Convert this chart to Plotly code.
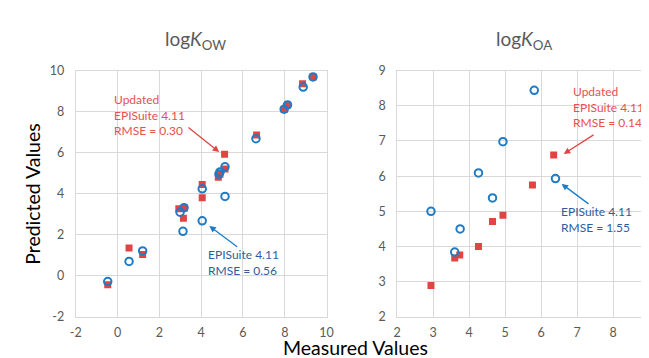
import plotly.graph_objects as go

# Left panel: logKow
kow_measured_upd = [-0.47, 0.55, 1.2, 2.93, 3.15, 3.2, 4.05, 4.05, 4.82, 4.9, 5.12, 5.14, 6.65, 7.97, 8.13, 8.85, 9.35]
kow_updated      = [-0.44, 1.35, 1.04, 3.27, 2.80, 3.30, 4.45, 3.80, 4.80, 4.95, 5.92, 5.20, 6.86, 8.10, 8.32, 9.36, 9.69]
kow_measured_epi = [-0.47, 0.55, 1.2, 2.99, 3.13, 3.18, 4.05, 4.05, 4.85, 4.9, 5.14, 5.14, 6.62, 7.97, 8.13, 8.88, 9.35]
kow_epi          = [-0.28, 0.70, 1.21, 3.10, 2.17, 3.32, 4.24, 2.68, 4.96, 5.06, 3.87, 5.31, 6.68, 8.12, 8.33, 9.20, 9.69]

# Right panel: logKoa
koa_measured_upd = [2.94, 3.60, 3.74, 4.26, 4.65, 4.94, 5.76, 6.35]
koa_updated      = [2.89, 3.67, 3.76, 4.00, 4.71, 4.89, 5.75, 6.60]
koa_measured_epi = [2.94, 3.60, 3.75, 4.26, 4.65, 4.94, 5.81, 6.40]
koa_epi          = [5.00, 3.84, 4.50, 6.09, 5.38, 6.98, 8.44, 5.93]

# Tick labels
kow_ticks = [-2, 0, 2, 4, 6, 8, 10]
kow_ticktext = ["-2", "0", "2", "4", "6", "8", "10"]
koa_ticks = [2, 3, 4, 5, 6, 7, 8, 9]
koa_ticktext = ["2", "3", "4", "5", "6", "7", "8", "9"]

RED = "#e04543"
BLUE = "#1f7cc4"
RED_TXT = "#e5514f"
BLUE_TXT = "#2c5e9e"
GRID = "#d9d9d9"
TICK = "#595959"
FONT = "Lato"

fig = go.Figure()

fig.add_trace(go.Scatter(x=kow_measured_upd, y=kow_updated, mode="markers",
                         marker=dict(symbol="square", size=7, color=RED),
                         xaxis="x", yaxis="y", showlegend=False))
fig.add_trace(go.Scatter(x=kow_measured_epi, y=kow_epi, mode="markers",
                         marker=dict(symbol="circle-open", size=7.5, color=BLUE, line=dict(width=2, color=BLUE)),
                         xaxis="x", yaxis="y", showlegend=False))
fig.add_trace(go.Scatter(x=koa_measured_upd, y=koa_updated, mode="markers",
                         marker=dict(symbol="square", size=7, color=RED),
                         xaxis="x2", yaxis="y2", showlegend=False))
fig.add_trace(go.Scatter(x=koa_measured_epi, y=koa_epi, mode="markers",
                         marker=dict(symbol="circle-open", size=7.5, color=BLUE, line=dict(width=2, color=BLUE)),
                         xaxis="x2", yaxis="y2", showlegend=False))

axcommon = dict(showgrid=True, gridcolor=GRID, gridwidth=1, zeroline=False,
                showline=True, linecolor=GRID, linewidth=1, mirror=True,
                ticks="", tickfont=dict(family=FONT, size=12.5, color=TICK))

ydom = [44 / 358, 301 / 358]
fig.update_layout(
    width=649, height=358,
    margin=dict(l=0, r=0, t=0, b=0),
    paper_bgcolor="white", plot_bgcolor="white",
    font=dict(family=FONT),
    xaxis=dict(domain=[63 / 649, 319 / 649], range=[-2, 10], tickmode="array", tickvals=kow_ticks,
               ticktext=kow_ticktext, anchor="y", ticklabelstandoff=4, **axcommon),
    yaxis=dict(domain=ydom, range=[-2, 10], tickmode="array", tickvals=kow_ticks,
               ticktext=kow_ticktext, anchor="x", ticklabelstandoff=8, **axcommon),
    xaxis2=dict(domain=[391 / 649, 648 / 649], range=[2, 9], tickmode="array", tickvals=koa_ticks,
                ticktext=koa_ticktext, anchor="y2", ticklabelstandoff=4, **axcommon),
    yaxis2=dict(domain=ydom, range=[2, 9], tickmode="array", tickvals=koa_ticks,
                ticktext=koa_ticktext, anchor="x2", ticklabelstandoff=8, **axcommon),
)

ann = []
# Titles
ann.append(dict(text="log<i>K</i><sub>OW</sub>", xref="paper", yref="paper", x=185 / 649, y=(358 - 25) / 358,
                showarrow=False, font=dict(size=19, color=TICK, family=FONT), xanchor="center", yanchor="middle"))
ann.append(dict(text="log<i>K</i><sub>OA</sub>", xref="paper", yref="paper", x=520 / 649, y=(358 - 25) / 358,
                showarrow=False, font=dict(size=19, color=TICK, family=FONT), xanchor="center", yanchor="middle"))
# Axis titles
ann.append(dict(text="Predicted Values", xref="paper", yref="paper", x=19 / 649, y=(358 - 186) / 358,
                showarrow=False, textangle=-90, font=dict(size=19.5, color="black", family=FONT),
                xanchor="center", yanchor="middle"))
ann.append(dict(text="Measured Values", xref="paper", yref="paper", x=348 / 649, y=0,
                showarrow=False, font=dict(size=19.5, color="black", family=FONT),
                xanchor="center", yanchor="bottom", yshift=-2))

# Left text labels
ann.append(dict(text="Updated<br>EPISuite 4.11<br>RMSE = 0.30", xref="x", yref="y", x=-0.25, y=9.05,
                showarrow=False, align="left", xanchor="left", yanchor="top",
                font=dict(size=12, color=RED_TXT, family=FONT)))
ann.append(dict(text="", xref="x", yref="y", x=4.86, y=6.03, axref="x", ayref="y", ax=3.32, ay=7.29,
                showarrow=True, arrowhead=2, arrowsize=1, arrowwidth=1.3, arrowcolor=RED))
ann.append(dict(text="EPISuite 4.11<br>RMSE = 0.56", xref="x", yref="y", x=4.25, y=1.5,
                showarrow=False, align="left", xanchor="left", yanchor="top",
                font=dict(size=12, color=BLUE_TXT, family=FONT)))
ann.append(dict(text="", xref="x", yref="y", x=4.39, y=2.43, axref="x", ayref="y", ax=5.79, ay=1.36,
                showarrow=True, arrowhead=2, arrowsize=1, arrowwidth=1.3, arrowcolor=BLUE))
# Right text labels
ann.append(dict(text="Updated<br>EPISuite 4.11<br>RMSE = 0.14", xref="x2", yref="y2", x=6.82, y=8.67,
                showarrow=False, align="left", xanchor="left", yanchor="top",
                font=dict(size=12, color=RED_TXT, family=FONT)))
ann.append(dict(text="", xref="x2", yref="y2", x=6.63, y=6.63, axref="x2", ayref="y2", ax=7.5, ay=7.2,
                showarrow=True, arrowhead=2, arrowsize=1, arrowwidth=1.3, arrowcolor=RED))
ann.append(dict(text="EPISuite 4.11<br>RMSE = 1.55", xref="x2", yref="y2", x=6.49, y=5.27,
                showarrow=False, align="left", xanchor="left", yanchor="top",
                font=dict(size=12, color=BLUE_TXT, family=FONT)))
ann.append(dict(text="", xref="x2", yref="y2", x=6.57, y=5.78, axref="x2", ayref="y2", ax=7.36, ay=5.18,
                showarrow=True, arrowhead=2, arrowsize=1, arrowwidth=1.3, arrowcolor=BLUE))

fig.update_layout(annotations=ann)
fig.write_html("out.html")
